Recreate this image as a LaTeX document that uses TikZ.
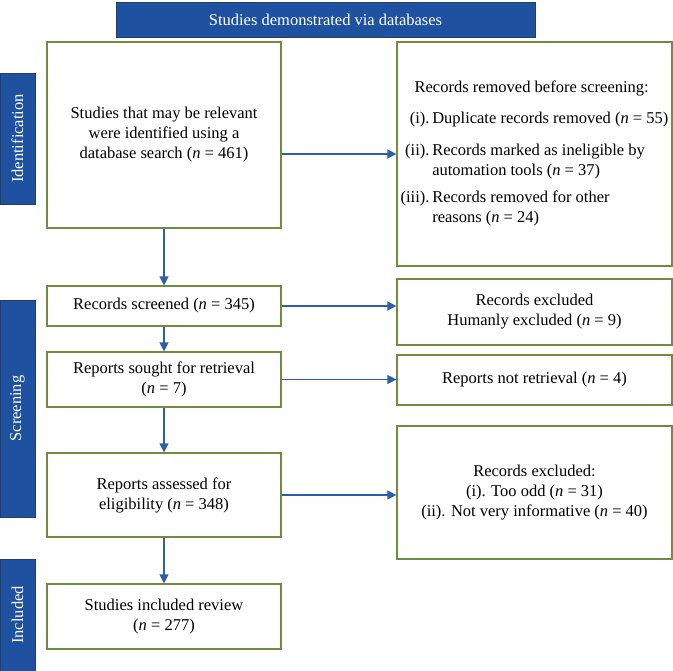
\documentclass[tikz,border=0pt]{standalone}
\usepackage{fontspec}
\setmainfont{Liberation Serif}
\usetikzlibrary{arrows.meta}
\definecolor{barblue}{RGB}{30,82,160}
\definecolor{barline}{RGB}{40,60,100}
\definecolor{boxgreen}{RGB}{112,140,62}
\definecolor{arrblue}{RGB}{44,94,170}
\tikzset{
  box/.style={draw=boxgreen, line width=1.2pt, inner sep=0pt, align=center, minimum width=234pt},
  rbox/.style={box, minimum width=275pt},
  bar/.style={draw=barline, fill=barblue, line width=0.8pt, text=white, inner sep=0pt, rotate=90, minimum height=35pt},
  arr/.style={draw=arrblue, line width=1.3pt, -{Triangle[length=9pt,width=9pt]}}
}
\begin{document}
\begin{tikzpicture}[x=1pt,y=-1pt,font=\fontsize{16.5}{20}\selectfont]
		\useasboundingbox (0,0) rectangle (673,671);
		
		% header
		\node[draw=barline, fill=barblue, line width=0.8pt, text=white, minimum width=419pt, minimum height=35pt, inner sep=0pt] (head) at (325.5,19.5) {Studies demonstrated via databases};
		
		% stage bars
		\node[bar, minimum width=131pt] (idbar) at (17.5,138.5) {Identification};
		\node[bar, minimum width=217pt] (scbar) at (17.5,408.5) {Screening};
		\node[bar, minimum width=112pt] (inbar) at (17.5,615) {Included};
		
		% left column
		\node[box, minimum height=186pt] (ident) at (164,135) {Studies that may be relevant\\were identified using a\\database search (\textit{n} = 461)};
		\node[box, minimum height=40pt] (screened) at (164,306) {Records screened (\textit{n} = 345)};
		\node[box, minimum height=55pt] (sought) at (164,379.5) {Reports sought for retrieval\\(\textit{n} = 7)};
		\node[box, minimum height=84pt] (assessed) at (164,495) {Reports assessed for\\eligibility (\textit{n} = 348)};
		\node[box, minimum height=65pt] (included) at (164,616.5) {Studies included review\\(\textit{n} = 277)};
		
		% right column
		\node[rbox, minimum height=224pt] (removed) at (534.5,154) {%
			\begin{tabular}{@{}r@{\,}l@{}}
				\multicolumn{2}{@{\hspace{14pt}}l@{}}{Records removed before screening:}\\[11pt]
				(i). & Duplicate records removed (\textit{n} = 55)\\[12pt]
				(ii). & Records marked as ineligible by\\
				& automation tools (\textit{n} = 37)\\[7pt]
				(iii). & Records removed for other\\
				& reasons (\textit{n} = 24)
			\end{tabular}};
		\node[rbox, minimum height=66pt] (excl1) at (534.5,312) {Records excluded\\Humanly excluded (\textit{n} = 9)};
		\node[rbox, minimum height=50pt] (notret) at (534.5,380) {Reports not retrieval (\textit{n} = 4)};
		\node[rbox, minimum height=133pt] (excl2) at (534.5,492.5) {Records excluded:\\(i). Too odd (\textit{n} = 31)\\(ii). Not very informative (\textit{n} = 40)};
		
		% arrows
		\draw[arr] (removed.west -| ident.east) -- (removed.west);
		\draw[arr] (screened.east) -- (screened.east -| excl1.west);
		\draw[arr] (sought.east) -- (sought.east -| notret.west);
		\draw[arr] (assessed.east) -- (assessed.east -| excl2.west);
		
		\draw[arr] (ident) -- (screened);
		\draw[arr] (screened) -- (sought);
		\draw[arr] (sought) -- (assessed);
		\draw[arr] (assessed) -- (included);
		
\end{tikzpicture}
\end{document}
